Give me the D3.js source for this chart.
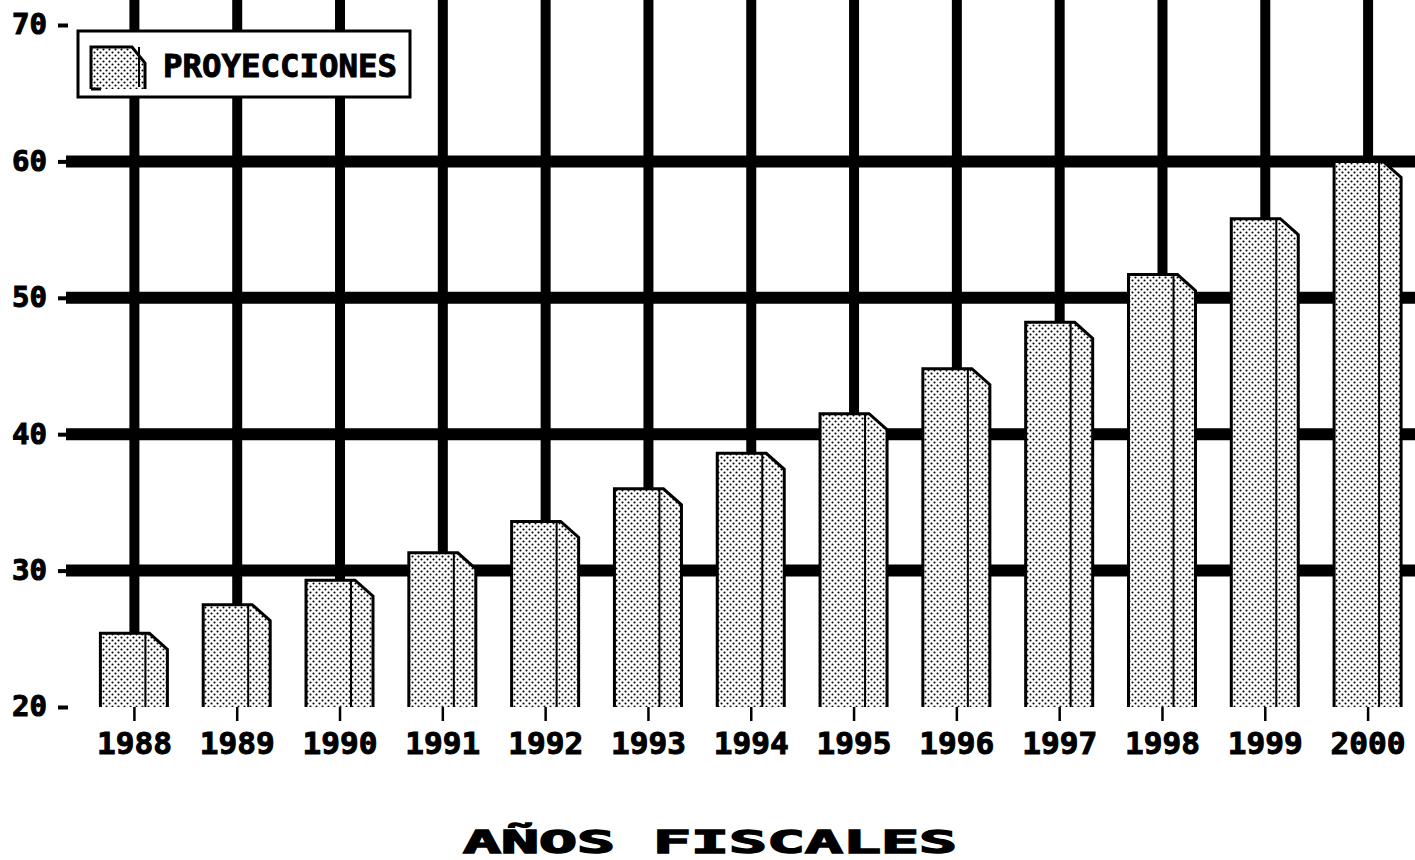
<!DOCTYPE html>
<html>
<head>
  <meta charset="utf-8">
  <script src="https://d3js.org/d3.v7.min.js"></script>
  <style>
    body { margin: 0; background: #fff; }
    text { font-family: "DejaVu Sans Mono", monospace; font-weight: bold; fill: #000;
           stroke: #000; stroke-width: 1px; }
  </style>
</head>
<title>Proyecciones - Años fiscales</title>
<body>
  <script>
    var width = 1415, height = 860;

    // data
    var years = ["1988", "1989", "1990", "1991", "1992", "1993", "1994",
                 "1995", "1996", "1997", "1998", "1999", "2000"];
    var proyecciones = [25.4, 27.5, 29.3, 31.3, 33.6, 36.0, 38.6,
                        41.5, 44.8, 48.2, 51.7, 55.8, 60.0];
    var yTicks = [20, 30, 40, 50, 60, 70];
    var gridValues = [30, 40, 50, 60];
    var legendLabel = "PROYECCIONES";
    var xTitle = "AÑOS FISCALES";

    var svg = d3.select("body")
      .append("svg")
      .attr("width", width)
      .attr("height", height);

    // stipple fill like the old printer output
    var pat = svg.append("defs").append("pattern")
      .attr("id", "dots")
      .attr("patternUnits", "userSpaceOnUse")
      .attr("width", 6)
      .attr("height", 6);
    pat.append("rect").attr("width", 6).attr("height", 6).attr("fill", "#fff");
    pat.append("circle").attr("cx", 1.5).attr("cy", 1.5).attr("r", 1.05).attr("fill", "#000");
    pat.append("circle").attr("cx", 4.5).attr("cy", 4.5).attr("r", 1.05).attr("fill", "#000");

    var y = d3.scaleLinear().domain([20, 70]).range([707, 25]);
    var x = d3.scaleBand().domain(years).range([83, 1419.5]);
    var cx = d => x(d) + x.bandwidth() / 2;

    // horizontal grid
    svg.append("g")
      .selectAll("line")
      .data(gridValues)
      .enter().append("line")
      .attr("x1", 66)
      .attr("x2", width)
      .attr("y1", d => y(d))
      .attr("y2", d => y(d))
      .attr("stroke", "black")
      .attr("stroke-width", 12);

    // vertical grid, from the top down to each bar
    svg.append("g")
      .selectAll("line")
      .data(years)
      .enter().append("line")
      .attr("x1", d => cx(d))
      .attr("x2", d => cx(d))
      .attr("y1", 0)
      .attr("y2", (d, i) => y(proyecciones[i]) + 2)
      .attr("stroke", "black")
      .attr("stroke-width", 10);

    // bar shape: front face + bevelled side face
    function barEdge(L, D, R, t, B) {
      return "M" + L + "," + B + "V" + t + "H" + (D + 4) + "L" + R + "," + (t + 16) + "V" + B;
    }

    var bars = svg.append("g")
      .selectAll("g")
      .data(years)
      .enter().append("g");

    bars.append("path")
      .attr("d", (d, i) => barEdge(cx(d) - 34, cx(d) + 11, cx(d) + 33, y(proyecciones[i]), y(20)) + "Z")
      .attr("fill", "url(#dots)");

    bars.append("path")
      .attr("d", (d, i) => barEdge(cx(d) - 34, cx(d) + 11, cx(d) + 33, y(proyecciones[i]), y(20)))
      .attr("fill", "none")
      .attr("stroke", "black")
      .attr("stroke-width", 3);

    bars.append("line")
      .attr("x1", d => cx(d) + 11)
      .attr("x2", d => cx(d) + 11)
      .attr("y1", (d, i) => y(proyecciones[i]))
      .attr("y2", y(20))
      .attr("stroke", "black")
      .attr("stroke-width", 2);

    // y axis
    var yAxis = svg.append("g")
      .attr("transform", "translate(68,0)")
      .call(d3.axisLeft(y).tickValues(yTicks).tickSize(10).tickPadding(11));
    yAxis.select(".domain").remove();
    yAxis.selectAll(".tick line").attr("stroke", "black").attr("stroke-width", 4);
    yAxis.selectAll(".tick text")
      .style("font-size", "28px")
      .attr("textLength", 35)
      .attr("lengthAdjust", "spacingAndGlyphs");

    // x axis
    var xAxis = svg.append("g")
      .attr("transform", "translate(0," + y(20) + ")")
      .call(d3.axisBottom(x).tickSize(14).tickPadding(12));
    xAxis.select(".domain").remove();
    xAxis.selectAll(".tick line").attr("stroke", "black").attr("stroke-width", 2.5);
    xAxis.selectAll(".tick text")
      .style("font-size", "30px")
      .attr("textLength", 75)
      .attr("lengthAdjust", "spacingAndGlyphs");

    // legend
    var legend = svg.append("g");
    legend.append("rect")
      .attr("x", 78).attr("y", 31)
      .attr("width", 332).attr("height", 66)
      .attr("fill", "white")
      .attr("stroke", "black")
      .attr("stroke-width", 3);
    legend.append("path")
      .attr("d", barEdge(91, 128, 145, 47, 89) + "Z")
      .attr("fill", "url(#dots)");
    legend.append("path")
      .attr("d", barEdge(91, 128, 145, 47, 89) + "M91,89H101")
      .attr("fill", "none")
      .attr("stroke", "black")
      .attr("stroke-width", 3);
    legend.append("line")
      .attr("x1", 139).attr("x2", 139)
      .attr("y1", 47).attr("y2", 87)
      .attr("stroke", "black")
      .attr("stroke-width", 2);
    legend.append("text")
      .attr("x", 163)
      .attr("y", 77)
      .style("font-size", "32px")
      .attr("textLength", 234)
      .attr("lengthAdjust", "spacingAndGlyphs")
      .text(legendLabel);

    // x title
    svg.append("text")
      .attr("x", 463)
      .attr("y", 853)
      .style("font-size", "32px")
      .style("stroke-width", "1.5px")
      .attr("textLength", 494)
      .attr("lengthAdjust", "spacingAndGlyphs")
      .text(xTitle);
  </script>
</body>
</html>
